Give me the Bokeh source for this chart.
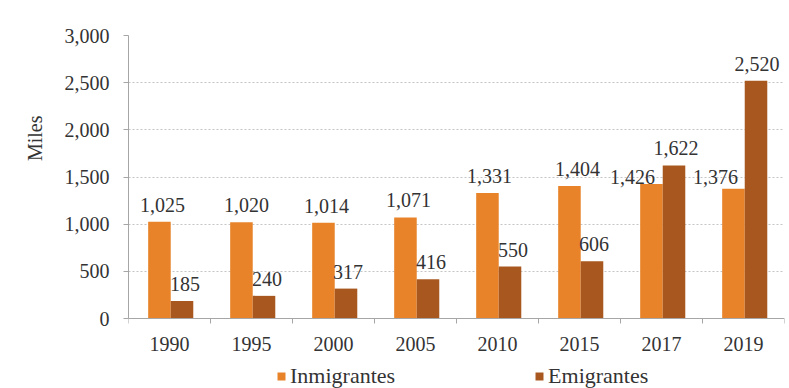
from bokeh.plotting import figure
from bokeh.models import (ColumnDataSource, Range1d, FixedTicker, Title,
                          NumeralTickFormatter, Legend, LegendItem)
from bokeh.transform import dodge
from bokeh.core.properties import value
from bokeh.embed import file_html
from bokeh.resources import INLINE

# ---------------- data ----------------
years = ["1990", "1995", "2000", "2005", "2010", "2015", "2017", "2019"]
inmigrantes = [1025, 1020, 1014, 1071, 1331, 1404, 1426, 1376]
emigrantes = [185, 240, 317, 416, 550, 606, 1622, 2520]
y_ticks = [0, 500, 1000, 1500, 2000, 2500, 3000]
series_names = ["Inmigrantes", "Emigrantes"]
y_title = "Miles"

# hand-placed nudges (pixels) of the value labels, as in the original
inm_label_dx = [3, 5, 3, 3, 2, 8, -19, -18]
inm_label_dy = [-17, -17, -17, -17, -17, -17, -7, -12]
emi_label_dx = [3, 3, 2, 3, 3, 2, 2, 1]
emi_label_dy = [-17, -17, -17, -17, -17, -17, -17, -17]

# ---------------- style / layout ----------------
FONT = "Liberation Serif"
TXT = "#333333"
AX = "#a6a6a6"
C_INM = "#e8832a"
C_EMI = "#a8581f"
BAR_W = 0.275
SHIFT = 0.015
W, H = 789, 388
TOP, LEFT, RIGHT = 35, 128, 5
PLOT_H = 283          # pixels between the 0 and the top gridline
BELOW = H - TOP - PLOT_H   # room under the zero line for x labels and legend

n = len(years)
centres = [i + 0.5 for i in range(n)]   # category slot centres on a 0..n axis
ymax = max(y_ticks)
ymin = -ymax * BELOW / PLOT_H

src = ColumnDataSource(dict(
    xc=centres,
    inm=inmigrantes,
    emi=emigrantes,
    inm_lbl=[f"{v:,}" for v in inmigrantes],
    emi_lbl=[f"{v:,}" for v in emigrantes],
    inm_dx=inm_label_dx, inm_dy=inm_label_dy,
    emi_dx=emi_label_dx, emi_dy=emi_label_dy,
))

p = figure(width=W, height=H, output_backend="svg", toolbar_location=None,
           x_range=Range1d(0, n), y_range=Range1d(ymin, ymax),
           min_border_left=LEFT, min_border_right=RIGHT, min_border_top=TOP,
           min_border_bottom=0)
p.outline_line_color = None
p.background_fill_color = "white"
p.border_fill_color = "white"

r_inm = p.vbar(x=dodge("xc", -BAR_W / 2 + SHIFT), top="inm", bottom=0, width=BAR_W,
               source=src, fill_color=C_INM, line_color=None)
r_emi = p.vbar(x=dodge("xc", BAR_W / 2 + SHIFT), top="emi", bottom=0, width=BAR_W,
               source=src, fill_color=C_EMI, line_color=None)

common = dict(source=src, text_font=value(FONT), text_font_size="20px", text_color=TXT,
              text_align="center", text_baseline="alphabetic")
p.text(x=dodge("xc", -BAR_W / 2 + SHIFT), y="inm", text="inm_lbl",
       x_offset="inm_dx", y_offset="inm_dy", **common)
p.text(x=dodge("xc", BAR_W / 2 + SHIFT), y="emi", text="emi_lbl",
       x_offset="emi_dx", y_offset="emi_dy", **common)

# y axis
yax = p.yaxis[0]
yax.ticker = FixedTicker(ticks=y_ticks)
yax.formatter = NumeralTickFormatter(format="0,0")
yax.bounds = (0, ymax)
yax.major_label_text_font = FONT
yax.major_label_text_font_size = "20px"
yax.major_label_text_color = TXT
yax.major_label_standoff = 14
yax.major_tick_out = 5
yax.major_tick_in = 0
yax.major_tick_line_color = AX
yax.minor_tick_line_color = None
yax.axis_line_color = AX

p.ygrid.ticker = FixedTicker(ticks=y_ticks)
p.ygrid.grid_line_color = "#c4c4c4"
p.ygrid.grid_line_dash = "2 2"
p.xgrid.grid_line_color = None

# x axis drawn on the zero line: labels at category centres, ticks at boundaries
xax = p.xaxis[0]
xax.fixed_location = 0
xax.ticker = FixedTicker(ticks=centres, minor_ticks=list(range(n + 1)))
xax.major_label_overrides = {c: y for c, y in zip(centres, years)}
xax.major_label_text_font = FONT
xax.major_label_text_font_size = "20px"
xax.major_label_text_color = TXT
xax.major_label_standoff = 13
xax.major_tick_line_color = None
xax.major_tick_out = 0
xax.major_tick_in = 0
xax.minor_tick_out = 5
xax.minor_tick_in = 0
xax.minor_tick_line_color = AX
xax.axis_line_color = AX

# y title in the left panel, placed high as in the original
p.add_layout(Title(text=y_title, align="right", offset=80, standoff=27,
                   vertical_align="top",
                   text_font=FONT, text_font_size="20px", text_font_style="normal",
                   text_color=TXT), "left")

legend = Legend(items=[LegendItem(label=series_names[0], renderers=[r_inm]),
                       LegendItem(label=series_names[1], renderers=[r_emi])],
                orientation="horizontal", location=(148, -1),
                glyph_width=10, glyph_height=10, label_standoff=4, spacing=139,
                padding=0, margin=0, border_line_color=None, background_fill_alpha=0,
                label_text_font=FONT, label_text_font_size="22px", label_text_color=TXT)
p.add_layout(legend, "center")

with open("out.html", "w") as f:
    f.write(file_html(p, INLINE))
